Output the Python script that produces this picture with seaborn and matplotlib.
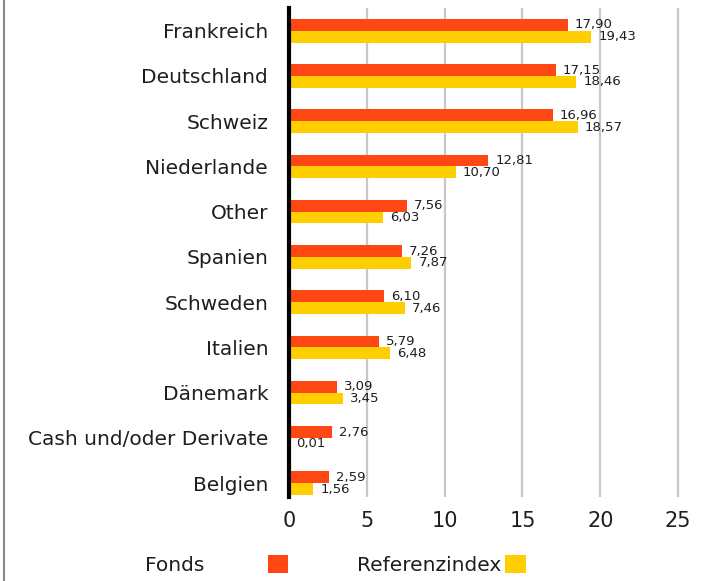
import pandas as pd
import matplotlib.pyplot as plt
import seaborn as sns
from matplotlib.lines import Line2D
from matplotlib.patches import Patch

# Daten
laender = ['Frankreich', 'Deutschland', 'Schweiz', 'Niederlande', 'Other', 'Spanien',
           'Schweden', 'Italien', 'Dänemark', 'Cash und/oder Derivate', 'Belgien']
fonds = [17.90, 17.15, 16.96, 12.81, 7.56, 7.26, 6.10, 5.79, 3.09, 2.76, 2.59]
referenz = [19.43, 18.46, 18.57, 10.70, 6.03, 7.87, 7.46, 6.48, 3.45, 0.01, 1.56]
serien = ['Fonds', 'Referenzindex']
farben = ['#FF4713', '#FFCE00']

df = pd.DataFrame({
    'Land': laender * 2,
    'Wert': fonds + referenz,
    'Serie': [serien[0]] * len(laender) + [serien[1]] * len(laender),
})

sns.set_style('white')
plt.rcParams['font.family'] = ['DejaVu Sans']

fig = plt.figure(figsize=(7.1, 5.81), dpi=100)
ax = fig.add_axes([0.407, 0.145, 0.57, 0.841])

sns.barplot(data=df, x='Wert', y='Land', hue='Serie', orient='h',
            palette=farben, width=0.52, saturation=1, linewidth=0,
            ax=ax, legend=False)

# Werte an die Balken
for cont, werte in zip(ax.containers, [fonds, referenz]):
    ax.bar_label(cont, labels=[f'{v:.2f}'.replace('.', ',') for v in werte],
                 padding=5, fontsize=9.5, color='#1e1e1e')

ax.set_xlim(0, 26)
ax.set_ylim(len(laender) - 1 + 0.3, -0.5)
ax.set_xticks([0, 5, 10, 15, 20, 25])
ax.set_xlabel('')
ax.set_ylabel('')
ax.grid(axis='x', color='#c8c8c8', linewidth=1.6)
ax.set_axisbelow(True)
for s in ['top', 'right', 'bottom']:
    ax.spines[s].set_visible(False)
ax.spines['left'].set_color('black')
ax.spines['left'].set_linewidth(3)
ax.spines['left'].set_zorder(5)
ax.tick_params(axis='y', length=0, pad=15, labelsize=14.5, labelcolor='#1e1e1e')
ax.tick_params(axis='x', length=0, pad=10, labelsize=15, labelcolor='#1e1e1e')

# Legende (zwei Einträge, Text vor dem Kästchen)
for name, farbe, x0, abstand in [(serien[0], farben[0], 0.204, 3.15),
                                 (serien[1], farben[1], 0.503, 0.2)]:
    leg = fig.legend([Patch(facecolor=farbe, edgecolor='none')], [name],
                     loc='center left', bbox_to_anchor=(x0, 0.027),
                     frameon=False, markerfirst=False, fontsize=14.5,
                     handlelength=1.0, handleheight=1.0, borderpad=0,
                     borderaxespad=0, handletextpad=abstand,
                     labelcolor='#1e1e1e')

# linker Rahmen
fig.add_artist(Line2D([0.005, 0.005], [0, 1], transform=fig.transFigure,
                      color='#888888', linewidth=1.5))

fig.savefig('out.png', dpi=100)
